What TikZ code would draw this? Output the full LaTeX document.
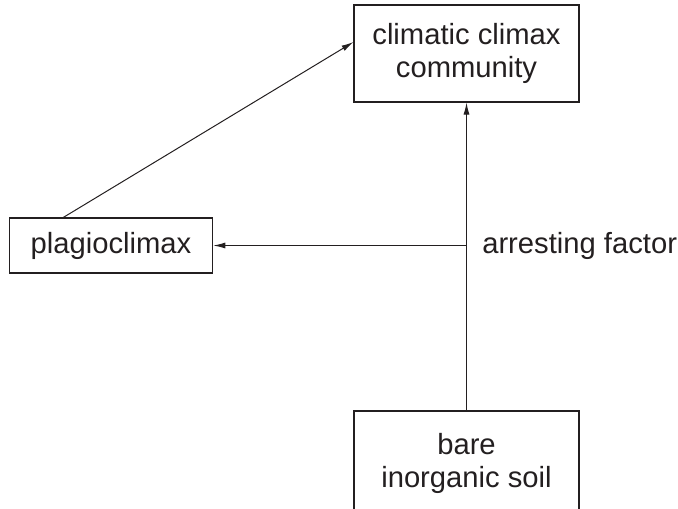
\documentclass[tikz,border=0pt]{standalone}
\usepackage{fontspec}
\setmainfont{Liberation Sans}
\usetikzlibrary{arrows.meta}
\definecolor{ink}{RGB}{35,31,32}

\begin{document}
\begin{tikzpicture}[x=0.75pt,y=-0.75pt, color=ink,
	font=\fontsize{21.9}{24.8}\selectfont,
	box/.style={draw, line width=0.8pt, align=center, inner sep=0pt},
	arr/.style={line width=0.75pt, -{Latex[length=9pt,width=4.5pt]}}]
	\useasboundingbox (0,0) rectangle (678,508);
	
	%boxes
	\node[box, minimum width=168.75pt, minimum height=72.75pt] (climax) at (466.5,53.5) {climatic climax\\community};
	\node[box, minimum width=152.6pt, minimum height=41.25pt] (plagio) at (111,245.5) {plagioclimax};
	\node[box, minimum width=168.75pt, minimum height=78pt] (soil) at (466.5,463) {bare\\inorganic soil};
	
	%arrows
	\draw[arr] (soil.north) -- (climax.south);
	\coordinate (branch) at (466.5,245.5);
	\draw[arr] (branch) -- (plagio.east);
	\draw[arr] ([xshift=40.9pt]plagio.north west) -- ([yshift=8.6pt]climax.west);
	
	%label
	\node[anchor=west, inner sep=0pt] (factor) at (482,246) {arresting factor};
\end{tikzpicture}
\end{document}
